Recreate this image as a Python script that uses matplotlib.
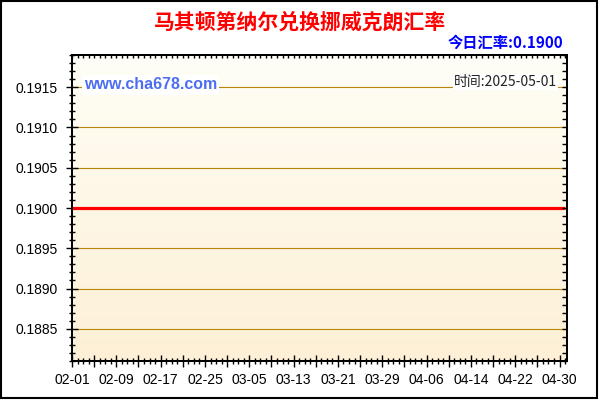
import numpy as np
import pandas as pd
import matplotlib
matplotlib.use('Agg')
import matplotlib.pyplot as plt
import matplotlib.dates as mdates
from matplotlib.colors import LinearSegmentedColormap
from matplotlib.patches import Rectangle
from matplotlib.ticker import MultipleLocator, FixedLocator, FixedFormatter, FormatStrFormatter

# data: MKD -> NOK, flat at 0.1900 over the whole period
start, end = '2025-02-01', '2025-05-01'
dates = pd.date_range(start, end, freq='D')
rates = [0.1900] * len(dates)
tick_labels = ['02-01', '02-09', '02-17', '02-25', '03-05', '03-13',
               '03-21', '03-29', '04-06', '04-14', '04-22', '04-30']
title = '马其顿第纳尔兑换挪威克朗汇率'
today_rate = '今日汇率:0.1900'
stamp = '时间:2025-05-01'
site = 'www.cha678.com'

CJK = ['Noto Sans CJK SC', 'DejaVu Sans']
LAT = ['Liberation Sans', 'DejaVu Sans']

fig = plt.figure(figsize=(6, 4), dpi=100)
ax = fig.add_axes([72/600, 39/400, 495/600, 306/400])

# background gradient
cmap = LinearSegmentedColormap.from_list('bg', ['#FDF0D6', '#FFFEF6'])
grad = np.linspace(0, 1, 256).reshape(-1, 1)
ax.imshow(grad, cmap=cmap, origin='lower', aspect='auto',
          extent=[0, 1, 0, 1], transform=ax.transAxes, zorder=0)

ax.plot(dates, rates, color='#FF0000', lw=2.3, zorder=3, solid_capstyle='butt')

x0 = mdates.date2num(pd.Timestamp(start))
x1 = mdates.date2num(pd.Timestamp(end)) + 0.35
ax.set_xlim(x0, x1)
ax.set_ylim(0.1881, 0.1919)

# y axis
ax.yaxis.set_major_locator(MultipleLocator(0.0005))
ax.yaxis.set_minor_locator(MultipleLocator(0.0001))
ax.yaxis.set_major_formatter(FormatStrFormatter('%.4f'))
ax.grid(axis='y', which='major', color='#B8860B', lw=0.8, zorder=1)
ax.set_axisbelow(False)

# x axis: tall tick every 4 days, label every 8 days, small tick daily
label_pos = [mdates.date2num(pd.Timestamp('2025-' + t)) for t in tick_labels]
major_pos, major_txt = [], []
for i, p in enumerate(label_pos):
    major_pos.append(p)
    major_txt.append(tick_labels[i])
    if i < len(label_pos) - 1:
        major_pos.append(p + 4)
        major_txt.append('')
ax.xaxis.set_major_locator(FixedLocator(major_pos))
ax.xaxis.set_major_formatter(FixedFormatter(major_txt))
ax.xaxis.set_minor_locator(MultipleLocator(1))

ax.tick_params(which='major', direction='inout', length=9, width=1,
               labelsize=10, pad=4, colors='black')
ax.tick_params(axis='y', which='major', pad=6)
ax.tick_params(which='minor', direction='inout', length=5, width=1)
for lab in ax.get_xticklabels() + ax.get_yticklabels():
    lab.set_family(LAT)
for s in ax.spines.values():
    s.set_linewidth(1.2)
    s.set_zorder(4)

# right and top ticks point inward
axr = ax.twinx()
axr.set_ylim(ax.get_ylim())
axr.yaxis.set_major_locator(MultipleLocator(0.0005))
axr.yaxis.set_minor_locator(MultipleLocator(0.0001))
axr.tick_params(which='both', direction='in', length=3.5, width=1, labelright=False)
axt = ax.twiny()
axt.set_xlim(ax.get_xlim())
axt.xaxis.set_major_locator(MultipleLocator(1))
axt.tick_params(which='both', direction='in', length=2.5, width=1, labeltop=False)
for a in (axr, axt):
    a.patch.set_visible(False)
    for s in a.spines.values():
        s.set_linewidth(1.2)

ax.text(0.024, 0.902, site, transform=ax.transAxes, color='#4D6EF0',
        fontsize=11.5, fontweight='bold', family=LAT, va='center', ha='left',
        bbox=dict(facecolor='white', edgecolor='none', pad=1.5), zorder=5)
ax.text(0.98, 0.912, stamp, transform=ax.transAxes, color='#222222',
        fontsize=10, family=CJK, va='center', ha='right',
        bbox=dict(facecolor='white', edgecolor='none', pad=1), zorder=5)

fig.text(0.5, 1 - 22/400, title, color='#FF0000', fontsize=15,
         fontweight='bold', family=CJK, ha='center', va='center')
fig.text(563/600, 1 - 43/400, today_rate, color='#0000FF', fontsize=11,
         fontweight='bold', family=CJK, ha='right', va='center')

fig.patches.append(Rectangle((0.5/600, 2/400), 596.5/600, 397.5/400, fill=False,
                             lw=1.5, edgecolor='black', transform=fig.transFigure))

fig.savefig('out.png', dpi=100)
